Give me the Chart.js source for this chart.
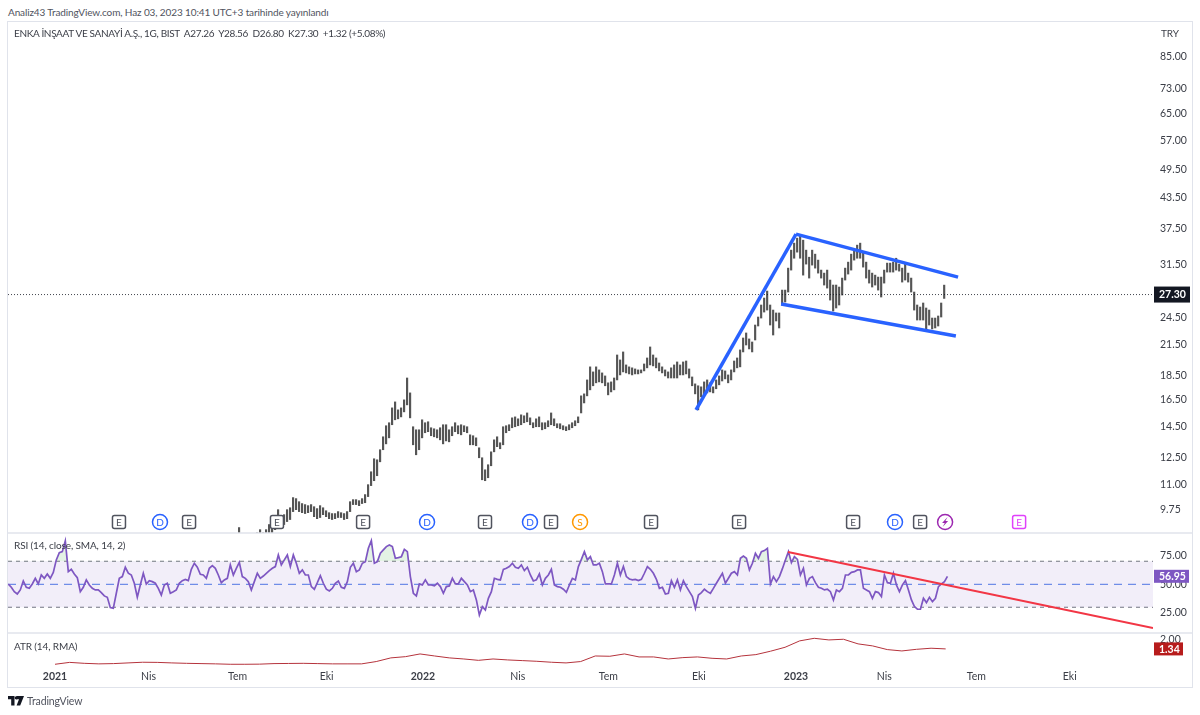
<!DOCTYPE html>
<html>
<head>
<meta charset="utf-8">
<title>ENKA</title>
<script src="https://cdn.jsdelivr.net/npm/chart.js@4"></script>
<style>
  html, body { margin: 0; padding: 0; background: #fff; }
  body { width: 1200px; height: 715px; position: relative; overflow: hidden; font-family: Lato, sans-serif; color: #3b3e47; }
  #frame { position: absolute; left: 7px; top: 21px; width: 1184px; height: 665px; border: 1px solid #e0e3eb; }
  #chart { position: absolute; left: 0; top: 0; }
  .txt { position: absolute; font-size: 10px; letter-spacing: -0.12px; white-space: pre; line-height: 14px; }
</style>
</head>
<body>
<div class="txt" style="left:8px;top:5px;color:#50535e">Analiz43 TradingView.com, Haz 03, 2023 10:41 UTC+3 tarihinde yayınlandı</div>
<div id="frame"><canvas id="chart" width="1184" height="665"></canvas></div>
<div class="txt" style="left:14px;top:26px;letter-spacing:-0.33px">ENKA İNŞAAT VE SANAYİ A.Ş., 1G, BIST  A27.26  Y28.56  D26.80  K27.30  +1.32 (+5.08%)</div>
<div class="txt" style="left:1161px;top:26px">TRY</div>
<div class="txt" style="left:14px;top:538px">RSI (14, close, SMA, 14, 2)</div>
<div class="txt" style="left:14px;top:639px">ATR (14, RMA)</div>
<svg style="position:absolute;left:8px;top:696px" width="16" height="10" viewBox="0 0 16 10">
  <path d="M0 0H6.5V9.5H3.2V3.2H0Z M8.4 0H16L12.2 9.5H8.6L11 3.2H8.4Z" fill="#131722"/>
  <circle cx="8.3" cy="1.8" r="1.6" fill="#131722"/>
</svg>
<div class="txt" style="left:27px;top:694px;font-size:10.5px;color:#50535e">TradingView</div>

<script>
// time axis, in trading days counted from the first bar of 2021
const timeTicks = [0, 64, 125, 186, 252, 317, 379, 441, 507.5, 568, 631, 695];
const timeLabels = ["2021", "Nis", "Tem", "Eki", "2022", "Nis", "Tem", "Eki", "2023", "Nis", "Tem", "Eki"];

const priceTicks = [85, 73, 65, 57, 49.5, 43.5, 37.5, 31.5, 24.5, 21.5, 18.5, 16.5, 14.5, 12.5, 11, 9.75];
const rsiTicks = [75, 50, 25];
const atrTicks = [2];

const lastClose = 27.30;
const lastRsi = 56.95;
const lastAtr = 1.34;

const barStartDay = 124;
const barGapDays = 2.055;

const priceHighs = [
  8.62,8.96,8.70,8.62,8.62,8.66,8.70,8.74,8.87,8.74,8.87,9.09,9.22,9.40,9.76,9.49,9.53,9.76,9.85,10.34,
  10.29,10.14,10.05,10.00,9.95,10.00,9.90,9.81,9.95,9.85,9.71,9.62,9.58,9.58,9.67,9.62,9.58,9.67,10.14,10.24,
  10.24,10.19,10.29,10.49,11.00,11.70,12.45,12.39,13.00,13.83,14.58,14.79,15.88,16.34,15.73,15.88,16.50,18.32,17.06,14.51,
  14.30,14.30,15.00,14.79,14.86,14.44,14.37,14.30,14.44,14.65,14.65,14.30,14.51,14.79,14.58,14.65,14.58,14.51,13.96,13.90,
  13.76,13.12,12.51,11.81,12.10,12.87,13.63,13.83,13.44,14.51,14.58,14.65,15.14,15.21,15.07,15.36,15.29,15.50,15.14,14.79,
  15.07,15.21,14.79,14.79,14.93,15.50,15.07,14.72,14.72,14.58,14.51,14.65,14.79,14.93,15.21,16.82,16.98,18.15,19.32,18.86,
  19.32,19.04,18.77,18.50,17.90,17.98,18.32,20.45,19.97,20.75,19.50,19.32,19.23,19.13,19.04,19.04,19.59,20.16,21.25,20.45,
  20.16,19.68,19.32,19.04,18.86,19.23,19.50,19.78,19.50,19.78,19.87,19.13,18.41,17.81,17.65,17.56,17.98,18.15,17.90,17.56,
  18.15,18.50,19.04,18.95,18.59,19.04,19.87,20.16,20.95,22.18,22.72,22.08,21.76,23.60,24.52,25.97,26.85,27.76,25.97,25.35,
  25.00,25.00,27.89,27.89,30.98,33.76,34.91,35.75,36.27,35.41,33.76,32.64,33.76,33.12,32.19,30.69,30.25,30.69,29.26,28.57,
  28.57,28.30,29.54,30.98,31.88,33.12,33.76,34.58,34.91,33.44,31.88,30.69,30.25,29.96,29.68,29.68,30.69,31.73,31.73,31.88,
  32.48,31.58,30.98,31.73,30.25,29.54,27.63,25.97,25.72,26.22,25.60,25.35,24.40,24.40,24.64,26.22,28.56
];
const priceLows = [
  8.26,8.46,8.38,8.30,8.34,8.38,8.38,8.42,8.46,8.46,8.54,8.62,8.70,8.87,9.22,9.05,9.09,9.22,9.31,9.67,
  9.76,9.67,9.62,9.58,9.62,9.67,9.44,9.35,9.40,9.53,9.44,9.35,9.31,9.35,9.40,9.40,9.31,9.35,9.67,10.00,
  10.00,9.95,10.05,10.09,10.39,10.95,11.21,11.48,12.27,13.00,13.37,13.76,14.65,15.00,15.07,15.21,15.58,16.11,15.14,13.31,
  12.69,13.00,13.76,14.10,14.17,13.90,13.83,13.76,13.63,13.37,13.56,13.50,13.90,14.17,14.03,13.96,14.17,14.10,13.31,13.31,
  13.25,12.51,11.26,11.21,11.37,12.04,12.87,13.19,13.06,13.31,14.10,14.24,14.44,14.51,14.58,14.65,14.79,14.86,14.65,14.44,
  14.51,14.51,14.30,14.37,14.51,14.65,14.58,14.44,14.37,14.30,14.24,14.30,14.44,14.58,14.79,15.50,16.26,16.82,17.31,17.65,
  17.90,17.98,17.90,17.65,16.90,17.14,17.31,18.15,18.59,18.86,18.77,18.68,18.59,18.68,18.68,18.77,18.95,19.23,19.50,19.41,
  19.23,18.95,18.77,18.50,18.32,18.32,18.32,18.32,18.59,18.59,18.68,18.32,17.65,16.98,15.73,16.74,16.98,17.06,17.14,17.06,
  17.40,17.73,18.06,18.24,17.90,18.15,18.86,19.23,19.32,20.75,21.45,21.05,20.75,21.97,23.49,24.40,25.11,25.35,23.60,22.50,
  24.06,23.27,25.97,26.34,27.63,30.69,32.48,33.44,32.48,29.96,31.58,29.54,31.43,30.98,30.25,29.54,28.57,28.16,26.59,25.23,
  25.60,25.97,27.24,29.26,30.11,30.69,32.19,32.48,32.48,31.13,29.54,28.84,28.30,28.57,27.89,26.98,28.84,30.40,30.40,30.40,
  30.69,30.54,28.98,29.26,28.98,27.63,25.35,24.17,24.17,24.17,23.05,23.60,23.16,23.27,23.49,24.52,26.80
];

const rsiStartDay = -32;
const rsiValues = [
  50.3,47.4,43.6,41.6,45.1,52.9,47.4,46.5,50.3,55.2,50.3,58.1,55.2,59,55.2,60.4,71.2,77.5,78.4,87.7,
  61,63,59,55.8,43.6,47.4,53.8,49.4,46.5,45.1,45.1,42.8,39.9,38.7,29.7,29.1,42.2,55.2,56.7,64.8,
  59.6,58.1,50.9,38.7,49.4,59.6,50.3,53.2,52.3,50.9,46.5,40.7,49.4,50.9,42.2,43.6,45.1,50.9,53.2,54.3,
  53.2,63,68.3,64.8,58.7,58.1,55.2,63.9,66.2,63.9,58.1,51.4,53.8,55.2,66.8,58.1,63.9,69.1,56.7,55.2,
  52.3,45.1,52.3,59.6,55.2,57.2,59.6,61.9,63.9,65.4,75.5,66.8,71.2,75.5,65.4,75.5,68.3,59.6,62.5,58.1,
  58.1,48,45.7,51.4,57.5,50.9,45.7,44.2,46.5,50.9,52.9,47.4,46.5,52.3,64.8,68.3,61,62.5,68.3,69.7,
  81.3,88,68.3,69.7,77,79.9,82.8,84.2,82.8,72.6,73.2,74,80.4,78.4,56.7,42.2,39.9,50.3,49.4,53.8,
  49.4,49.4,48.6,50.9,48,42.2,48,48.6,55.2,50.3,50.3,55.2,52.3,49.4,43.6,45.1,36.4,23.3,30.6,27.7,
  37.8,43.6,55.2,54.3,53.8,63,63.9,65.4,68.3,64.8,63.9,66.8,61.9,64.8,58.1,52.9,53.8,59,49.4,55.2,
  58.1,63,49.4,48,47.4,45.7,43,49.4,55.2,53.8,65.4,71.7,78.4,71.2,74,66.8,66.8,68.3,61,50.3,
  50.3,50.3,58.1,68.3,58.1,65.4,56.7,54.6,53.8,54.3,53.2,54.3,59.6,65.4,63,59.6,54.3,46.5,47.4,41.6,
  42.2,53.2,47.4,53.8,45.1,53.2,48,43.6,39.3,29.1,40.7,42.8,45.7,43.6,42.2,46.5,50.9,55.2,59.6,50.9,
  55.2,59.6,61,58.1,72.6,74.6,72.6,62.5,68.3,77,72.6,78.4,79.3,81.3,50.3,56.7,52.3,56.7,63.6,71.2,
  78.4,68.8,74,71.7,58.1,63.9,49.4,55.2,56.7,51.4,47.4,46.5,45.1,45.7,43.6,36.4,45.1,43.6,46.5,58.1,
  58.1,60.4,61,62.5,62.5,46.5,45.1,43.6,37.8,43.6,42.8,39.3,58.1,51.4,50.9,59.6,49.4,43.6,49.4,53.2,
  45.1,36.4,30.6,28.3,28.3,37.8,34.1,38.7,34.9,37.8,48,50.3,52.3,56.95
];

const atrGapDays = 10;
const atrValues = [
  0.21,0.35,0.28,0.24,0.26,0.31,0.36,0.35,0.31,0.28,0.26,0.24,0.21,0.21,0.22,0.26,0.27,0.28,0.26,0.24,
  0.24,0.24,0.41,0.68,0.77,0.97,0.82,0.68,0.60,0.50,0.60,0.53,0.48,0.43,0.36,0.31,0.41,0.82,0.80,0.97,
  0.75,0.75,0.60,0.70,0.75,0.65,0.60,0.82,0.92,1.17,1.46,1.93,2.12,2.00,2.05,1.71,1.56,1.29,1.19,1.31,
  1.39,1.34
];

// drawn trend lines: [day, value] end points
const flagPoleDays = [439, 507.5];
const flagPolePrices = [15.73, 36.44];
const flagTopDays = [507.5, 618.5];
const flagTopPrices = [36.44, 29.68];
const flagBottomDays = [497.3, 617];
const flagBottomPrices = [26.1, 22.39];
const rsiTrendDays = [502, 752];
const rsiTrendValues = [78.1, 12];

// earnings / dividend / split flags above the RSI pane
const eventDays = [43.8, 71.9, 91.8, 152, 211, 254.8, 294.5, 325.3, 339.7, 359.6, 408.2, 468.5, 546.6, 575.3, 592.5, 609.6, 660.3];
const eventKinds = ["E", "D", "E", "E", "E", "D", "E", "D", "E", "S", "E", "E", "E", "D", "E", "B", "F"];

const FONT = "Lato, sans-serif";
const TEXT = "#3b3e47";

function pairs(days, vals) {
  return days.map((d, i) => ({ x: d, y: vals[i] }));
}

function tickList(list) {
  return scale => { scale.ticks = list.map(v => ({ value: v })); };
}

// panes must fill the canvas exactly, so drop the room kept for tick labels
function noPadding(scale) {
  scale.paddingTop = 0;
  scale.paddingBottom = 0;
  scale.paddingLeft = 0;
  scale.paddingRight = 0;
}

function yAxis(weight, min, max, list, type) {
  return {
    type: type,
    position: "right",
    stack: "panes",
    stackWeight: weight,
    min: min,
    max: max,
    bounds: "data",
    grid: { display: false, drawTicks: false },
    border: { display: false },
    afterBuildTicks: tickList(list),
    afterFit: scale => { scale.width = 39; noPadding(scale); },
    ticks: {
      autoSkip: false,
      padding: 7,
      color: TEXT,
      font: { family: FONT, size: 10.5 },
      callback: v => Number(v).toFixed(2),
    },
  };
}

function lineSet(data, yAxisID, color, width, extra) {
  return Object.assign({
    type: "line", data, yAxisID, xAxisID: "x",
    borderColor: color, borderWidth: width,
    pointRadius: 0, tension: 0, fill: false,
  }, extra || {});
}

const barPoints = priceHighs.map((h, i) => ({ x: barStartDay + i * barGapDays, y: [priceLows[i], h] }));
const rsiPoints = rsiValues.map((v, i) => ({ x: rsiStartDay + i * barGapDays, y: v }));
const atrPoints = atrValues.map((v, i) => ({ x: i * atrGapDays, y: v }));

const FULL_RANGE = [-32.2, 752];

function drawTag(ctx, chart, y, h, w, bg, label) {
  const x = chart.chartArea.right;
  ctx.fillStyle = bg;
  ctx.fillRect(x + 1, y - h / 2, w, h);
  ctx.fillStyle = "#fff";
  ctx.font = "bold 10.5px " + FONT;
  ctx.textAlign = "left";
  ctx.textBaseline = "middle";
  ctx.fillText(label, x + 6, y + 0.5);
}

function drawBolt(ctx, x, y) {
  ctx.beginPath();
  ctx.moveTo(x + 2.5, y - 5);
  ctx.lineTo(x - 3, y + 1);
  ctx.lineTo(x - 0.3, y + 1);
  ctx.lineTo(x - 2.5, y + 5);
  ctx.lineTo(x + 3, y - 1);
  ctx.lineTo(x + 0.3, y - 1);
  ctx.closePath();
  ctx.fill();
}

function drawEvent(ctx, x, y, kind) {
  const isBox = kind === "E" || kind === "F";
  const colors = { E: "#50535e", F: "#e040fb", D: "#2962ff", S: "#ff9800", B: "#9c27b0" };
  const c = colors[kind];
  ctx.save();
  ctx.lineWidth = 1.5;
  ctx.strokeStyle = c;
  ctx.fillStyle = "#fff";
  ctx.beginPath();
  if (isBox) ctx.roundRect(x - 6.5, y - 6.5, 13, 13, 2);
  else ctx.arc(x, y, 7.5, 0, Math.PI * 2);
  ctx.fill();
  ctx.stroke();
  ctx.fillStyle = c;
  if (kind === "B") {
    drawBolt(ctx, x, y);
  } else {
    ctx.font = "10px " + FONT;
    ctx.textAlign = "center";
    ctx.textBaseline = "middle";
    ctx.fillText(kind === "F" ? "E" : kind, x, y + 0.5);
  }
  ctx.restore();
}

const paneDecor = {
  id: "paneDecor",
  afterDatasetsDraw(chart) {
    const { ctx, scales } = chart;
    // pane separators
    ctx.save();
    ctx.strokeStyle = "#e0e3eb";
    ctx.lineWidth = 1.5;
    [scales.yPrice.bottom, scales.yRsi.bottom].forEach(y => {
      ctx.beginPath();
      ctx.moveTo(0, y);
      ctx.lineTo(chart.width, y);
      ctx.stroke();
    });
    ctx.restore();

    eventDays.forEach((d, i) => {
      drawEvent(ctx, scales.x.getPixelForValue(d), scales.yPrice.bottom - 11, eventKinds[i]);
    });
  },
  afterDraw(chart) {
    const { ctx, scales } = chart;
    ctx.save();
    drawTag(ctx, chart, scales.yPrice.getPixelForValue(lastClose), 16, 36, "#131722", lastClose.toFixed(2));
    drawTag(ctx, chart, scales.yRsi.getPixelForValue(lastRsi), 13, 35, "#7e57c2", lastRsi.toFixed(2));
    drawTag(ctx, chart, scales.yAtr.getPixelForValue(lastAtr), 13, 29, "#b71c1c", lastAtr.toFixed(2));
    ctx.restore();
  },
};

function isYearTick(ctx) {
  return !!ctx.tick && /^20/.test(timeLabels[timeTicks.indexOf(ctx.tick.value)]);
}

new Chart(document.getElementById("chart"), {
  type: "bar",
  data: {
    datasets: [
      lineSet(pairs(flagPoleDays, flagPolePrices), "yPrice", "#2962ff", 3.5),
      lineSet(pairs(flagTopDays, flagTopPrices), "yPrice", "#2962ff", 3.5),
      lineSet(pairs(flagBottomDays, flagBottomPrices), "yPrice", "#2962ff", 3.5),
      lineSet(pairs(FULL_RANGE, [lastClose, lastClose]), "yPrice", "#131722", 0.8, { borderDash: [1, 2] }),
      { type: "bar", data: barPoints, yAxisID: "yPrice", xAxisID: "x", backgroundColor: "#555555", barThickness: 1.5, grouped: false },

      lineSet(pairs(rsiTrendDays, rsiTrendValues), "yRsi", "#f23645", 2),
      lineSet(rsiPoints, "yRsi", "#7e57c2", 1.7, {
        fill: { target: { value: 70 }, above: "rgba(76,175,80,0.15)", below: "rgba(0,0,0,0)" },
      }),
      lineSet(pairs(FULL_RANGE, [50, 50]), "yRsi", "#6f8de8", 1.2, { borderDash: [8, 6] }),
      lineSet(pairs(FULL_RANGE, [70, 70]), "yRsi", "#8a8d96", 1.2, {
        borderDash: [4, 4],
        fill: { target: { value: 30 } },
        backgroundColor: "rgba(126,87,194,0.1)",
      }),
      lineSet(pairs(FULL_RANGE, [30, 30]), "yRsi", "#8a8d96", 1.2, { borderDash: [4, 4] }),

      lineSet(atrPoints, "yAtr", "#b5333c", 1),
    ],
  },
  options: {
    responsive: false,
    animation: false,
    events: [],
    layout: { padding: 0 },
    plugins: { legend: { display: false }, tooltip: { enabled: false } },
    scales: {
      x: {
        type: "linear",
        offset: false,
        min: FULL_RANGE[0],
        max: FULL_RANGE[1],
        bounds: "data",
        grid: { display: false, drawTicks: false },
        border: { display: false },
        afterBuildTicks: tickList(timeTicks),
        afterFit: scale => { scale.height = 20; noPadding(scale); },
        ticks: {
          autoSkip: false,
          maxRotation: 0,
          padding: 3,
          color: TEXT,
          font: ctx => ({ family: FONT, size: 10.5, weight: isYearTick(ctx) ? "bold" : "normal" }),
          callback: v => timeLabels[timeTicks.indexOf(v)],
        },
      },
      yPrice: yAxis(511, 8.73, 100.5, priceTicks, "logarithmic"),
      yRsi: yAxis(100, 7.65, 94.6, rsiTicks, "linear"),
      yAtr: yAxis(34, 0.01, 2.51, atrTicks, "linear"),
    },
  },
  plugins: [paneDecor],
});
</script>
</body>
</html>
